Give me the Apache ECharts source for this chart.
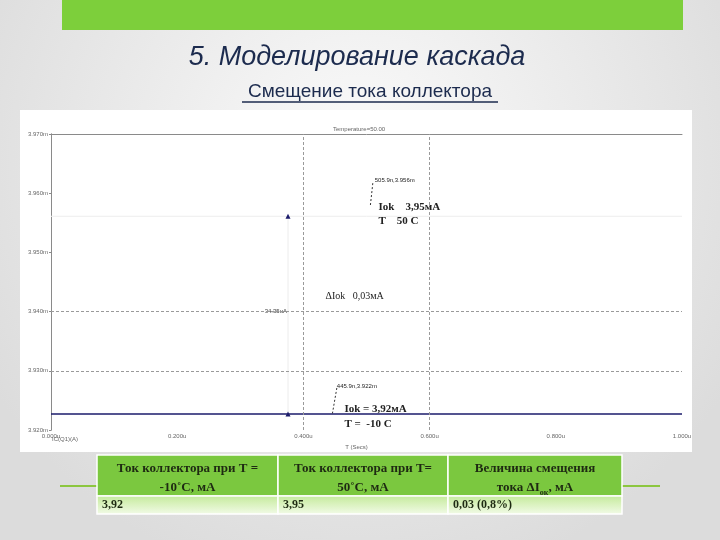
<!DOCTYPE html>
<html>
<head>
<meta charset="utf-8">
<script src="https://cdn.jsdelivr.net/npm/echarts@6/dist/echarts.min.js"></script>
<style>
html, body { margin: 0; padding: 0; }
#chart { width: 720px; height: 540px; }
</style>
</head>
<body>
<div id="chart"></div>
<script>
// axis scale (x in ns, y in mA)
const xMin = 0, xMax = 1000, xStep = 200;
const yMin = 3.92, yMax = 3.97, yStep = 0.01;

// collector current curves
const curveCold = [[0, 3.9227], [1000, 3.9227]];   // T = -10 C
const curveHot = [[0, 3.9561], [1000, 3.9561]];    // T = 50 C
const cursorPts = [[375.6, 3.9561], [375.6, 3.9227]];
const gridX = [400, 600];
const gridY = [3.93, 3.94];

// annotations: [x, y, text, style]
const notes = [
  [513, 3.9622, '505.9n,3.956m', 'small'],
  [519, 3.9577, 'Iok    3,95мА', 'big'],
  [519, 3.9553, 'T    50 C', 'big'],
  [435, 3.9425, 'ΔIok   0,03мА', 'mid'],
  [453, 3.9274, '445.9n,3.922m', 'small'],
  [465, 3.9235, 'Iok = 3,92мА', 'big'],
  [465, 3.9210, 'T =  -10 C', 'big']
];
const leaders = [
  [[510, 3.9617], [505.9, 3.9577]],
  [[453, 3.9271], [446, 3.9228]]
];
const deltaLabel = [374, 3.9400, '34.35uA'];

// table
const tableHead = [
  ['Ток коллектора при Т =', '-10˚С, мА'],
  ['Ток коллектора при Т=', '50˚С, мА'],
  ['Величина смещения', 'тока ΔI{s|ок}, мА']
];
const tableRow = ['3,92', '3,95', '0,03 (0,8%)'];

const chart = echarts.init(document.getElementById('chart'));

const grid = { left: 51, top: 134, right: 38, bottom: 110 };
const cols = [97, 278, 448, 622];
const serif = '"Liberation Serif", "DejaVu Serif", serif';

function slideGraphics() {
  const g = [
    // slide background
    { type: 'rect', z: -10, shape: { x: 0, y: 0, width: 720, height: 540 },
      style: { fill: new echarts.graphic.RadialGradient(0.5, 0.3, 0.8, [
        { offset: 0, color: '#fbfbfb' }, { offset: 1, color: '#dcdcdc' }]) } },
    { type: 'rect', z: -9, shape: { x: 62, y: 0, width: 621, height: 30 }, style: { fill: '#7dcf3b' } },
    { type: 'text', x: 357, y: 44, style: {
      text: '5. Моделирование каскада', fill: '#1c2b4e', textAlign: 'center',
      font: 'italic 27px "Liberation Sans", Arial, sans-serif' } },
    { type: 'text', x: 370, y: 82, style: {
      text: 'Смещение тока коллектора', fill: '#1c2b4e', textAlign: 'center',
      font: '19px "Liberation Sans Narrow", "Liberation Sans", sans-serif' } },
    { type: 'line', shape: { x1: 242, y1: 102, x2: 498, y2: 102 }, style: { stroke: '#1c2b4e', lineWidth: 1.5 } },
    // simulation panel
    { type: 'rect', z: -8, shape: { x: 20, y: 110, width: 672, height: 342 }, style: { fill: '#ffffff' } },
    { type: 'text', x: 333, y: 126, style: { text: 'Temperature=50.00', fill: '#666', font: '6px sans-serif' } },
    { type: 'text', x: 52, y: 436, style: { text: 'IC(Q1)(A)', fill: '#666', font: '6px sans-serif' } },
    // side lines of the table
    { type: 'line', shape: { x1: 60, y1: 486, x2: cols[0], y2: 486 }, style: { stroke: '#8cc63f', lineWidth: 2 } },
    { type: 'line', shape: { x1: cols[3], y1: 486, x2: 660, y2: 486 }, style: { stroke: '#8cc63f', lineWidth: 2 } }
  ];
  // table cells
  for (let i = 0; i < 3; i++) {
    const x0 = cols[i], w = cols[i + 1] - cols[i];
    g.push({ type: 'rect', shape: { x: x0, y: 455, width: w, height: 41 },
      style: { fill: '#7bc83f', stroke: '#ffffff', lineWidth: 1.5 } });
    g.push({ type: 'rect', shape: { x: x0, y: 496, width: w, height: 18 },
      style: { fill: new echarts.graphic.LinearGradient(0, 0, 0, 1, [
        { offset: 0, color: '#c4ea9a' }, { offset: 1, color: '#f3fbe9' }]),
        stroke: '#ffffff', lineWidth: 1.5 } });
    g.push({ type: 'text', x: x0 + w / 2, y: 459, style: {
      text: tableHead[i][0] + '\n' + tableHead[i][1], textAlign: 'center',
      fill: '#1e2a12', font: 'bold 13px ' + serif, lineHeight: 19,
      rich: { s: { fontSize: 8, fontWeight: 'bold', fontFamily: serif, verticalAlign: 'bottom', padding: [6, 0, 0, 0] } } } });
    g.push({ type: 'text', x: x0 + 5, y: 499, style: {
      text: tableRow[i], fill: '#1e2a12', font: 'bold 12px ' + serif } });
  }
  return g;
}

const noteFont = {
  small: '6px sans-serif',
  mid: '10px ' + serif,
  big: 'bold 11px ' + serif
};

chart.setOption({
  animation: false,
  grid: grid,
  xAxis: [{
    type: 'value', min: xMin, max: xMax, interval: xStep,
    name: 'T (Secs)', nameLocation: 'middle', nameGap: 12,
    nameTextStyle: { fontSize: 6, color: '#666', padding: [0, 0, 0, -20] },
    axisLine: { show: false }, axisTick: { show: false }, splitLine: { show: false },
    axisLabel: { fontSize: 6, color: '#666', margin: 3,
      formatter: v => (v / 1000).toFixed(3) + 'u' }
  }, {
    type: 'value', min: xMin, max: xMax, position: 'top',
    axisLine: { show: true, lineStyle: { color: '#8a8a8a' } },
    axisTick: { show: false }, axisLabel: { show: false }, splitLine: { show: false }
  }],
  yAxis: [{
    type: 'value', min: yMin, max: yMax, interval: yStep,
    axisLine: { show: true, lineStyle: { color: '#8a8a8a' } },
    axisTick: { show: true, length: 2, lineStyle: { color: '#8a8a8a' } },
    splitLine: { show: false },
    axisLabel: { fontSize: 6, color: '#666', margin: 3,
      formatter: v => v.toFixed(3) + 'm' }
  }, {
    type: 'value', min: yMin, max: yMax, position: 'right',
    axisLine: { show: true, lineStyle: { color: '#8a8a8a' } },
    axisTick: { show: false }, axisLabel: { show: false }, splitLine: { show: false }
  }],
  series: [{
    type: 'line', data: curveHot, symbol: 'none', silent: true,
    lineStyle: { color: '#ededed', width: 1 }
  }, {
    type: 'line', data: curveCold, symbol: 'none', silent: true,
    lineStyle: { color: '#1b1b6b', width: 1.6 },
    markLine: {
      silent: true, symbol: 'none', label: { show: false },
      lineStyle: { color: '#9a9a9a', type: [3, 2], width: 1 },
      data: gridX.map(v => ({ xAxis: v })).concat(gridY.map(v => ({ yAxis: v })))
    }
  }, {
    type: 'line', data: cursorPts, symbol: 'triangle', symbolSize: 5, silent: true,
    itemStyle: { color: '#1b1b6b' },
    lineStyle: { color: '#ececec', width: 1 }
  }].concat(leaders.map(l => ({
    type: 'line', data: l, symbol: ['none', 'arrow'], symbolSize: [0, 5], silent: true,
    showSymbol: true, itemStyle: { color: '#333' },
    lineStyle: { color: '#333', width: 1, type: [2, 2] }
  }))),
  graphic: slideGraphics()
});

// place annotation texts from data coordinates
const extra = notes.map(n => {
  const p = chart.convertToPixel({ xAxisIndex: 0, yAxisIndex: 0 }, [n[0], n[1]]);
  return { type: 'text', x: p[0], y: p[1], style: {
    text: n[2], fill: '#222', font: noteFont[n[3]], textVerticalAlign: 'middle' } };
});
const dp = chart.convertToPixel({ xAxisIndex: 0, yAxisIndex: 0 }, [deltaLabel[0], deltaLabel[1]]);
extra.push({ type: 'text', x: dp[0], y: dp[1], style: {
  text: deltaLabel[2], fill: '#444', font: '6px sans-serif', textAlign: 'right', textVerticalAlign: 'middle' } });

chart.setOption({ graphic: slideGraphics().concat(extra) });
</script>
</body>
</html>
